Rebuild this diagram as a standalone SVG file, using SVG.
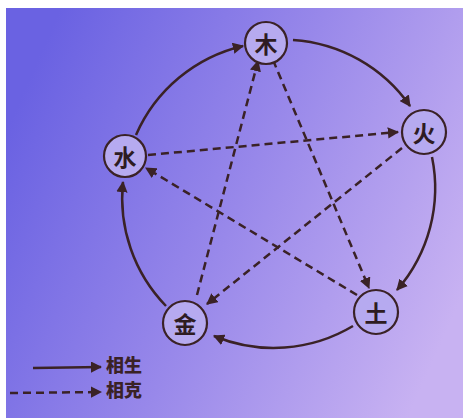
<svg xmlns="http://www.w3.org/2000/svg" width="463" height="418" viewBox="0 0 463 418">
<defs>
<linearGradient id="bg" x1="0" y1="0.3" x2="1" y2="0.7">
<stop offset="0" stop-color="#6a62e2"/>
<stop offset="0.5" stop-color="#9888ea"/>
<stop offset="1" stop-color="#c8b2f2"/>
</linearGradient>
<marker id="ah" viewBox="0 0 10 10" refX="9" refY="5" markerWidth="4.5" markerHeight="4.5" orient="auto" markerUnits="strokeWidth">
<path d="M0,0 L10,5 L0,10 Z" fill="#3a2226"/>
</marker>
<style>
.sheng{fill:none;stroke:#3a2226;stroke-width:2.5;marker-end:url(#ah)}
.ke{fill:none;stroke:#3a2226;stroke-width:2.5;stroke-dasharray:8 5;marker-end:url(#ah)}
.node circle{fill:#b6aaf0;stroke:#3a2226;stroke-width:2.2}
.node text{font-family:"Noto Sans CJK SC",sans-serif;font-size:23px;font-weight:bold;fill:#2e1c22;text-anchor:middle;dominant-baseline:central}
.lg{font-family:"Noto Sans CJK SC",sans-serif;font-size:18px;font-weight:900;fill:#3a2226;dominant-baseline:central}
</style>
</defs>
<rect x="0" y="0" width="463" height="418" fill="#ffffff"/>
<rect x="6" y="8" width="457" height="410" fill="url(#bg)"/>
<g id="connectors">
<path class="sheng" d="M293,40 A155,155 0 0 1 410,106"/>
<path class="sheng" d="M432,157 A155,155 0 0 1 397,290"/>
<path class="sheng" d="M353,326 A155,155 0 0 1 214,336"/>
<path class="sheng" d="M166,306 A155,155 0 0 1 123,182"/>
<path class="sheng" d="M136,135 A155,155 0 0 1 243,46"/>
<path class="ke" d="M273,60 L369,288"/>
<path class="ke" d="M357,295 L146,168"/>
<path class="ke" d="M148,155 L398,132"/>
<path class="ke" d="M402,148 L207,304"/>
<path class="ke" d="M197,295 L258,61"/>
</g>
<g id="mu" class="node"><circle cx="266" cy="43" r="21"/><text x="266" y="43">木</text></g>
<g id="huo" class="node"><circle cx="424" cy="132" r="22"/><text x="424" y="132">火</text></g>
<g id="shui" class="node"><circle cx="125" cy="156" r="21"/><text x="125" y="156">水</text></g>
<g id="jin" class="node"><circle cx="185" cy="323" r="22"/><text x="185" y="323">金</text></g>
<g id="tu" class="node"><circle cx="376" cy="312" r="22"/><text x="376" y="312">土</text></g>
<g id="legend">
<path class="sheng" d="M33,368 L101,367"/>
<text class="lg" x="106" y="364">相生</text>
<path class="ke" d="M10,393 L101,392"/>
<text class="lg" x="106" y="389">相克</text>
</g>
</svg>
